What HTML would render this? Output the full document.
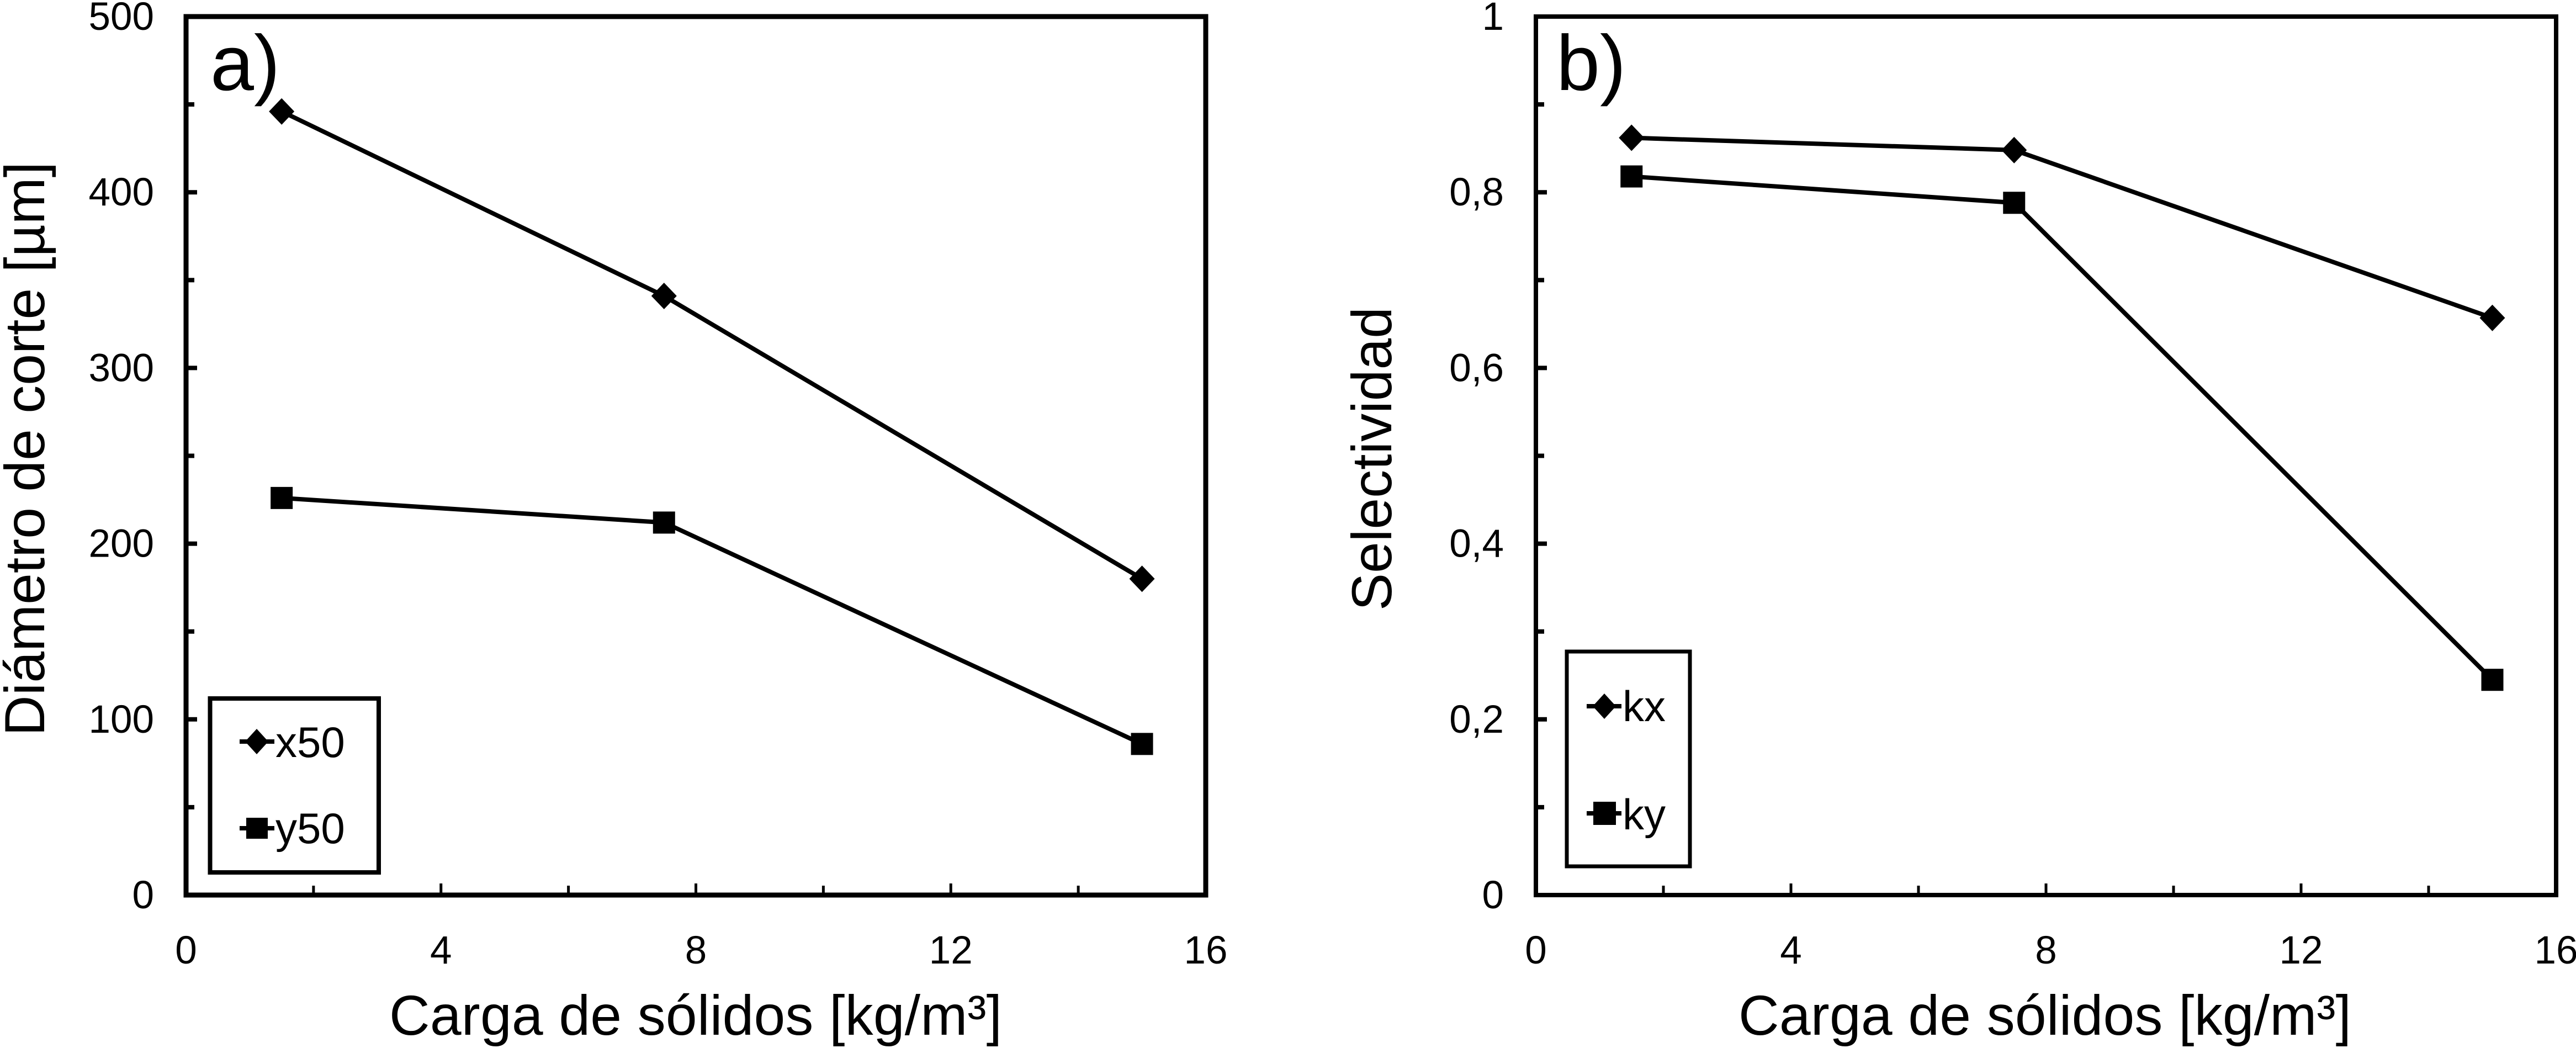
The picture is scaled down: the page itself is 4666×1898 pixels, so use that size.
<!DOCTYPE html>
<html lang="es">
<head>
<meta charset="utf-8">
<title>Diámetro de corte y selectividad</title>
<style>
html,body{margin:0;padding:0;background:#fff;width:4666px;height:1898px;overflow:hidden}
svg{display:block}
text{font-family:"Liberation Sans",Arial,sans-serif;fill:#000}
.tick{font-size:71px}
.axis-title{font-size:102px}
.legend-text{font-size:78px}
.panel-label{font-size:142px}
</style>
</head>
<body>
<svg id="chart" xmlns="http://www.w3.org/2000/svg" width="4666" height="1898" viewBox="0 0 4666 1898">
  <rect x="0" y="0" width="4666" height="1898" fill="#fff"/>

  <g id="panel-a">
    <rect x="337" y="30" width="1847" height="1591" fill="none" stroke="#000" stroke-width="9"/>
    <text class="panel-label" x="381" y="163">a)</text>
    <text class="axis-title" x="705" y="1874" textLength="1110" lengthAdjust="spacing">Carga de sólidos [kg/m³]</text>
    <text class="axis-title" transform="translate(80 1333) rotate(-90)" textLength="1040" lengthAdjust="spacing">Diámetro de corte [µm]</text>
  </g>

  <g id="panel-b">
    <rect x="2782" y="30" width="1848" height="1591" fill="none" stroke="#000" stroke-width="8"/>
    <text class="panel-label" x="2819" y="163">b)</text>
    <text class="axis-title" x="3149" y="1874" textLength="1110" lengthAdjust="spacing">Carga de sólidos [kg/m³]</text>
    <text class="axis-title" transform="translate(2520 1106) rotate(-90)">Selectividad</text>
  </g>

  <g id="legend-a">
    <rect x="380.5" y="1265" width="305.5" height="315" fill="#fff" stroke="#000" stroke-width="8"/>
    <line x1="434" y1="1343" x2="497" y2="1343" stroke="#000" stroke-width="8"/>
    <polygon points="465,1320 486,1343 465,1366 444,1343" fill="#000"/>
    <text class="legend-text" x="499" y="1371">x50</text>
    <line x1="434" y1="1500" x2="497" y2="1500" stroke="#000" stroke-width="8"/>
    <rect x="446" y="1481" width="39" height="38" fill="#000"/>
    <text class="legend-text" x="499" y="1527">y50</text>
  </g>

  <g id="legend-b">
    <rect x="2838" y="1180" width="223" height="389" fill="#fff" stroke="#000" stroke-width="7"/>
    <line x1="2874" y1="1279" x2="2937" y2="1279" stroke="#000" stroke-width="8"/>
    <polygon points="2906,1256 2927,1279 2906,1302 2885,1279" fill="#000"/>
    <text class="legend-text" x="2939" y="1306">kx</text>
    <line x1="2874" y1="1473" x2="2937" y2="1473" stroke="#000" stroke-width="8"/>
    <rect x="2886" y="1452" width="41" height="42" fill="#000"/>
    <text class="legend-text" x="2939" y="1502">ky</text>
  </g>
</svg>

<script>
const solidsLoad = [1.5, 7.5, 15];
const x50Values = [446, 341, 180];
const y50Values = [226, 212, 86];
const kxValues = [0.862, 0.848, 0.657];
const kyValues = [0.818, 0.788, 0.245];

const xTickValues = [0, 4, 8, 12, 16];
const xTickLabels = ['0', '4', '8', '12', '16'];
const xMarkValues = [2, 4, 6, 8, 10, 12, 14];
const xMajorMarkValues = [4, 8, 12];

const yTickValuesA = [0, 100, 200, 300, 400, 500];
const yTickLabelsA = ['0', '100', '200', '300', '400', '500'];
const yMinorValuesA = [50, 150, 250, 350, 450];

const yTickValuesB = [0, 0.2, 0.4, 0.6, 0.8, 1];
const yTickLabelsB = ['0', '0,2', '0,4', '0,6', '0,8', '1'];
const yMinorValuesB = [0.1, 0.3, 0.5, 0.7, 0.9];

const SVG_NS = 'http://www.w3.org/2000/svg';

function makePanel(groupId, left, right, yMax, labelRight) {
  const group = document.getElementById(groupId);
  const top = 30;
  const bottom = 1621;
  return {
    group: group,
    left: left,
    right: right,
    bottom: bottom,
    labelRight: labelRight,
    x: function (v) { return left + (v / 16) * (right - left); },
    y: function (v) { return bottom - (v / yMax) * (bottom - top); }
  };
}

function drawXAxis(panel, suffix) {
  xTickValues.forEach(function (v, i) {
    const label = document.createElementNS(SVG_NS, 'text');
    label.setAttribute('class', 'tick');
    label.setAttribute('x', panel.x(v));
    label.setAttribute('y', 1745);
    label.setAttribute('text-anchor', 'middle');
    label.textContent = xTickLabels[i];
    
    
    panel.group.appendChild(label);
  });
  xMarkValues.forEach(function (v) {
    const mark = document.createElementNS(SVG_NS, 'line');
    const isMajor = xMajorMarkValues.indexOf(v) >= 0;
    mark.setAttribute('x1', panel.x(v));
    mark.setAttribute('x2', panel.x(v));
    mark.setAttribute('y1', panel.bottom);
    mark.setAttribute('y2', isMajor ? 1600 : 1604);
    mark.setAttribute('stroke', '#000');
    mark.setAttribute('stroke-width', 5);
    
    
    panel.group.appendChild(mark);
  });
}

function drawYAxis(panel, suffix, tickValues, tickLabels, minorValues) {
  tickValues.forEach(function (v, i) {
    const label = document.createElementNS(SVG_NS, 'text');
    label.setAttribute('class', 'tick');
    label.setAttribute('x', panel.labelRight);
    label.setAttribute('y', panel.y(v) + 24);
    label.setAttribute('text-anchor', 'end');
    label.textContent = tickLabels[i];
    
    
    panel.group.appendChild(label);

    const mark = document.createElementNS(SVG_NS, 'line');
    mark.setAttribute('x1', panel.left);
    mark.setAttribute('x2', panel.left + 20);
    mark.setAttribute('y1', panel.y(v));
    mark.setAttribute('y2', panel.y(v));
    mark.setAttribute('stroke', '#000');
    mark.setAttribute('stroke-width', 8);
    
    
    panel.group.appendChild(mark);
  });
  minorValues.forEach(function (v) {
    const mark = document.createElementNS(SVG_NS, 'line');
    mark.setAttribute('x1', panel.left);
    mark.setAttribute('x2', panel.left + 15);
    mark.setAttribute('y1', panel.y(v));
    mark.setAttribute('y2', panel.y(v));
    mark.setAttribute('stroke', '#000');
    mark.setAttribute('stroke-width', 8);
    
    
    panel.group.appendChild(mark);
  });
}

function drawSeries(panel, seriesName, values, markerType) {
  const line = document.createElementNS(SVG_NS, 'polyline');
  const pts = values.map(function (v, i) {
    return panel.x(solidsLoad[i]) + ',' + panel.y(v);
  }).join(' ');
  line.setAttribute('points', pts);
  line.setAttribute('fill', 'none');
  line.setAttribute('stroke', '#000');
  line.setAttribute('stroke-width', 8);
  line.setAttribute('stroke-linejoin', 'round');
  
  
  panel.group.appendChild(line);

  values.forEach(function (v, i) {
    const cx = panel.x(solidsLoad[i]);
    const cy = panel.y(v);
    let marker;
    if (markerType === 'diamond') {
      marker = document.createElementNS(SVG_NS, 'polygon');
      marker.setAttribute('points', cx + ',' + (cy - 24) + ' ' + (cx + 23) + ',' + cy + ' ' + cx + ',' + (cy + 24) + ' ' + (cx - 23) + ',' + cy);
    } else {
      marker = document.createElementNS(SVG_NS, 'rect');
      marker.setAttribute('x', cx - 20);
      marker.setAttribute('y', cy - 20);
      marker.setAttribute('width', 40);
      marker.setAttribute('height', 40);
    }
    marker.setAttribute('fill', '#000');
    
    
    panel.group.appendChild(marker);
  });
}

const panelA = makePanel('panel-a', 337, 2184, 500, 279);
const panelB = makePanel('panel-b', 2782, 4630, 1, 2724);

drawXAxis(panelA, 'a');
drawYAxis(panelA, 'a', yTickValuesA, yTickLabelsA, yMinorValuesA);
drawSeries(panelA, 'x50', x50Values, 'diamond');
drawSeries(panelA, 'y50', y50Values, 'square');

drawXAxis(panelB, 'b');
drawYAxis(panelB, 'b', yTickValuesB, yTickLabelsB, yMinorValuesB);
drawSeries(panelB, 'kx', kxValues, 'diamond');
drawSeries(panelB, 'ky', kyValues, 'square');
</script>
</body>
</html>
